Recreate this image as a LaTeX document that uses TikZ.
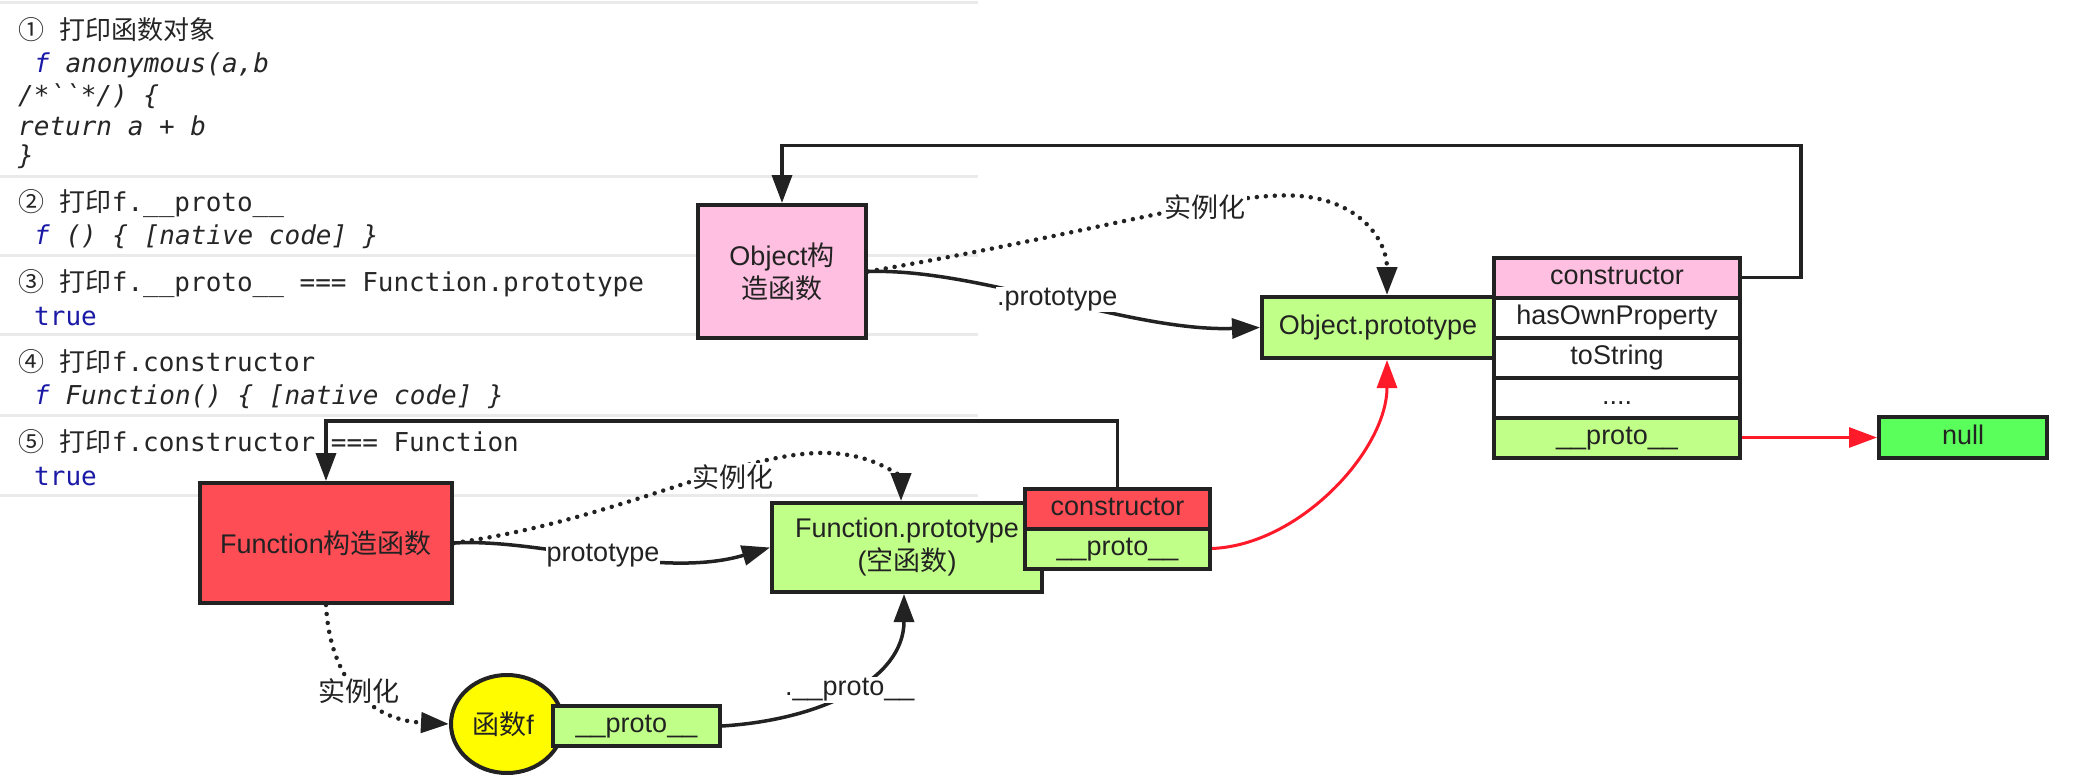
\documentclass[tikz,border=0pt]{standalone}
\usepackage{fontspec}
\setmainfont{Liberation Sans}
\newfontfamily\zhfont{Noto Sans CJK SC}
\newfontfamily\monofam{DejaVu Sans Mono}[Ligatures=TeXOff]
\usetikzlibrary{arrows.meta,shapes.geometric}

\definecolor{ink}{HTML}{222222}
\definecolor{pinkfill}{HTML}{FFBFE0}
\definecolor{redfill}{HTML}{FF4D55}
\definecolor{greenfill}{HTML}{C0FF88}
\definecolor{nullfill}{HTML}{5BFF5B}
\definecolor{yellowfill}{HTML}{FFFC00}
\definecolor{redline}{HTML}{FF1A2A}
\definecolor{consoletext}{HTML}{262626}
\definecolor{consoleblue}{HTML}{1A1AA6}
\definecolor{sepgray}{HTML}{EAEAEA}

\newcommand\diagfont{\fontsize{27}{33}\selectfont}

\tikzset{
  sepline/.style={draw=sepgray, line width=3pt},
  console/.style={anchor=base west, inner sep=0pt, text=consoletext,
    font=\monofam\fontsize{26}{30}\selectfont},
  box/.style={draw=ink, line width=4pt, text=ink, inner sep=0pt,
    align=center, font=\diagfont},
  cell/.style={box, text height=19pt, text depth=6pt},
  conn/.style={draw=ink, line width=3.5pt, -{Triangle[length=28pt,width=20pt]}},
  inst/.style={conn, line width=4.5pt, line cap=round, dash pattern=on 0pt off 9pt},
  redconn/.style={draw=redline, line width=3pt, -{Triangle[length=28pt,width=20pt]}},
  lbl/.style={fill=white, text=ink, inner sep=1pt, font=\diagfont}
}

\begin{document}
\begin{tikzpicture}[x=1pt, y=-1pt]
\fill[white] (0,0) rectangle (2078,784);
\useasboundingbox (0,0) rectangle (2078,784);

% console output panel
\foreach \yy in {3,176,255,334,415,495}
  \draw[sepline] (0,\yy) -- (978,\yy);

\node[console] (c1) at (18,40) {{\zhfont ①} {\zhfont 打印函数对象}};
\node[console] (c2) at (34,73) {\itshape\textcolor{consoleblue}{f} anonymous(a,b};
\node[console] (c3) at (18,104) {\itshape /*``*/) \{};
\node[console] (c4) at (18,135) {\itshape return a + b};
\node[console] (c5) at (18,164) {\itshape \}};
\node[console] (c6) at (18,211) {{\zhfont ②} {\zhfont 打印}f.\_\_proto\_\_};
\node[console] (c7) at (34,244) {\itshape\textcolor{consoleblue}{f} () \{ [native code] \}};
\node[console] (c8) at (18,291) {{\zhfont ③} {\zhfont 打印}f.\_\_proto\_\_ === Function.prototype};
\node[console] (c9) at (34,325) {\textcolor{consoleblue}{true}};
\node[console] (c10) at (18,371) {{\zhfont ④} {\zhfont 打印}f.constructor};
\node[console] (c11) at (34,404) {\itshape\textcolor{consoleblue}{f} Function() \{ [native code] \}};
\node[console] (c12) at (18,451) {{\zhfont ⑤} {\zhfont 打印}f.constructor === Function};
\node[console] (c13) at (34,485) {\textcolor{consoleblue}{true}};

% Object side
\node[box, fill=pinkfill, minimum width=168pt, minimum height=133pt] (objctor)
  at (782,271.5) {Object{\zhfont 构}\\{\zhfont 造函数}};
\node[cell, fill=greenfill, minimum width=232pt, minimum height=61pt] (objproto)
  at (1378,327.5) {Object.prototype};
\node[cell, fill=pinkfill, minimum width=246pt, minimum height=40pt] (ocons) at (1617,277.5) {constructor};
\node[cell, fill=white, minimum width=246pt, minimum height=40pt] (ohas) at (1617,317.5) {hasOwnProperty};
\node[cell, fill=white, minimum width=246pt, minimum height=40pt] (ostr) at (1617,357.5) {toString};
\node[cell, fill=white, minimum width=246pt, minimum height=40pt] (odots) at (1617,397.5) {....};
\node[cell, fill=greenfill, minimum width=246pt, minimum height=40pt] (oproto) at (1617,437.5) {\_\_proto\_\_};
\node[cell, fill=nullfill, minimum width=168pt, minimum height=41pt] (null) at (1963,437.5) {null};

% Function side
\node[box, fill=redfill, minimum width=252pt, minimum height=120pt] (fnctor)
  at (326,543) {Function{\zhfont 构造函数}};
\node[box, fill=greenfill, minimum width=270pt, minimum height=89pt] (fnproto)
  at (907,547.5) {Function.prototype\\({\zhfont 空函数})};
\node[cell, fill=redfill, minimum width=185pt, minimum height=40pt] (fcons) at (1117.5,509) {constructor};
\node[cell, fill=greenfill, minimum width=185pt, minimum height=40pt] (fproto) at (1117.5,548.5) {\_\_proto\_\_};

% the function instance
\node[ellipse, draw=ink, line width=4pt, fill=yellowfill, text=ink, font=\diagfont,
  minimum width=112pt, minimum height=98pt, inner sep=0pt] (fobj) at (507,724)
  {{\zhfont 函数}f\hspace*{8pt}};
\node[cell, fill=greenfill, minimum width=167pt, minimum height=40pt] (fobjproto) at (636.5,726) {\_\_proto\_\_};

% constructor back-links
\draw[conn] (ocons.east) -- ++(59,0) -- ++(0,-132) -| (objctor.north);
\draw[conn] (fcons.north) -- ++(0,-66) -| (fnctor.north);

% prototype links
\draw[conn] (objctor.east) .. controls (980,268) and (1130,332) .. (objproto.west)
  node[lbl, pos=0.5] {.prototype};
\draw[conn] (fnctor.east) .. controls (540,538) and (660,580) .. (fnproto.west)
  node[lbl, pos=0.5] {prototype};

% instantiation links
\draw[inst] (objctor.east) .. controls (1100,232) and (1230,190) .. (1300,196)
  .. controls (1360,201) and (1387,240) .. ([xshift=9pt]objproto.north);
\node[lbl] (oinst) at (1205,207) {\zhfont 实例化};
\draw[inst] (fnctor.east) .. controls (620,520) and (740,450) .. (829,453)
  .. controls (880,455) and (901,480) .. ([xshift=-6pt]fnproto.north);
\node[lbl] (finst) at (733,477) {\zhfont 实例化};
\draw[inst] (fnctor.south) .. controls (330,680) and (370,720) .. (fobj.west)
  node[lbl, pos=0.5] {\zhfont 实例化};

% __proto__ chain
\draw[conn] (fobjproto.east) .. controls (820,720) and (904,680) .. ([xshift=-3pt]fnproto.south)
  node[lbl, pos=0.5] {.\_\_proto\_\_};
\draw[redconn] (fproto.east) .. controls (1300,545) and (1387,450) .. ([xshift=9pt]objproto.south);
\draw[redconn] (oproto.east) -- (null.west);
\end{tikzpicture}
\end{document}
